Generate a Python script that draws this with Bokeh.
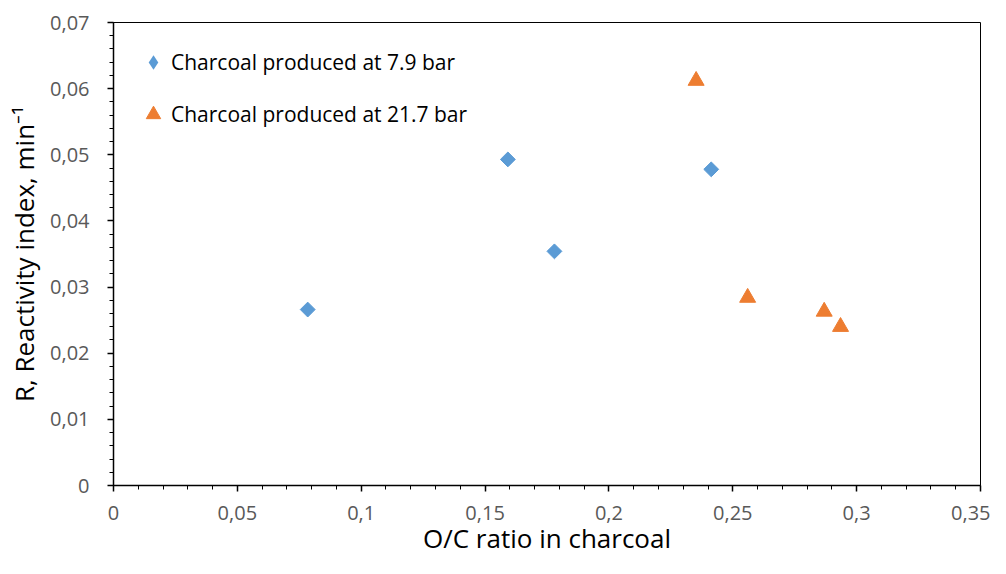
import numpy as np
from bokeh.plotting import figure
from bokeh.models import Range1d, Legend, LegendItem, CustomJSTickFormatter, FixedTicker
from bokeh.embed import file_html
from bokeh.resources import INLINE

# Data
oc_79 = [0.0784, 0.1592, 0.178, 0.2413]
r_79 = [0.0266, 0.0493, 0.0354, 0.0478]
oc_217 = [0.2352, 0.256, 0.2869, 0.2935]
r_217 = [0.0612, 0.0284, 0.0263, 0.0240]
label_79 = "Charcoal produced at 7.9 bar"
label_217 = "Charcoal produced at 21.7 bar"
x_ticks = [0, 0.05, 0.1, 0.15, 0.2, 0.25, 0.3, 0.35]
y_ticks = [0, 0.01, 0.02, 0.03, 0.04, 0.05, 0.06, 0.07]
x_minor = [i / 100 for i in range(36)]
y_minor = [i / 500 for i in range(36)]

BLUE = "#5B9BD5"
ORANGE = "#ED7D31"
FONT = "Open Sans"

p = figure(width=990, height=558, output_backend="svg", toolbar_location=None,
           x_range=Range1d(0, 0.35), y_range=Range1d(0, 0.07),
           min_border_left=113, min_border_right=10, min_border_top=22, min_border_bottom=72)
p.xgrid.visible = False
p.ygrid.visible = False
p.outline_line_color = "black"
p.outline_line_width = 1
p.background_fill_color = "white"
p.border_fill_color = "white"

fmt = CustomJSTickFormatter(code="return Number(tick.toFixed(3)).toString().replace('.', ',');")

p.xaxis.ticker = FixedTicker(ticks=x_ticks, minor_ticks=x_minor)
p.yaxis.ticker = FixedTicker(ticks=y_ticks, minor_ticks=y_minor)
for ax in (p.xaxis[0], p.yaxis[0]):
    ax.formatter = fmt
    ax.axis_line_color = "black"
    ax.axis_line_width = 1.5
    ax.major_tick_line_color = "black"
    ax.minor_tick_line_color = "black"
    ax.major_tick_line_width = 1.5
    ax.minor_tick_line_width = 1
    ax.major_tick_out = 6
    ax.major_tick_in = 0
    ax.minor_tick_out = 4
    ax.minor_tick_in = 0
    ax.major_label_text_font = FONT
    ax.major_label_text_font_size = "20px"
    ax.major_label_text_color = "#595959"
    ax.axis_label_text_font = FONT
    ax.axis_label_text_font_style = "normal"
    ax.axis_label_text_color = "black"
    ax.axis_label_text_font_size = "26px"

p.xaxis.axis_label = "O/C ratio in charcoal"
p.yaxis.axis_label = "R, Reactivity index, min\u207b\u00b9"
p.xaxis.major_label_standoff = 14
p.yaxis.major_label_standoff = 18
p.xaxis.axis_label_standoff = -3
p.yaxis.axis_label_standoff = 5

# legend-only diamond, hidden below the (same coloured) rotated squares
r_leg = p.scatter(oc_79, r_79, marker="diamond", size=14,
                  fill_color=BLUE, line_color=None)
r1 = p.scatter(oc_79, r_79, marker="square", size=10.5, angle=np.pi / 4,
               fill_color=BLUE, line_color=BLUE)
r2 = p.scatter(oc_217, r_217, marker="triangle", size=16,
               fill_color=ORANGE, line_color=ORANGE)

legend = Legend(items=[LegendItem(label=label_79, renderers=[r_leg]),
                       LegendItem(label=label_217, renderers=[r2])],
                location="top_left")
legend.margin = 22
legend.padding = 18
legend.spacing = 16
legend.glyph_width = 36
legend.glyph_height = 36
legend.label_height = 20
legend.label_standoff = 0
legend.label_text_font = FONT
legend.label_text_font_size = "21px"
legend.label_text_color = "black"
legend.border_line_color = None
legend.background_fill_alpha = 0
p.add_layout(legend)

open("out.html", "w").write(file_html(p, INLINE))
